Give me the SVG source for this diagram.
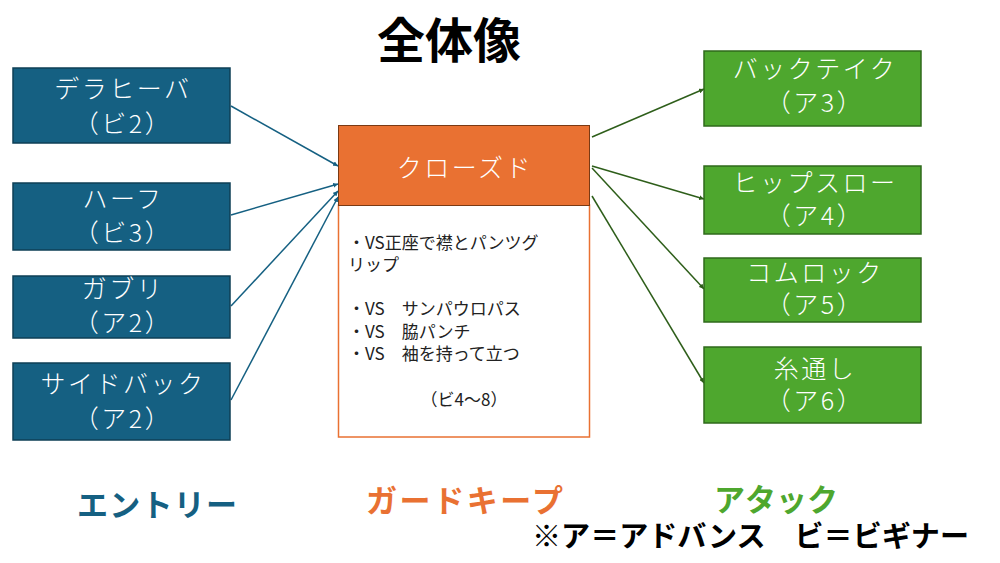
<svg xmlns="http://www.w3.org/2000/svg" width="1000" height="563" viewBox="0 0 1000 563">
<style>
.t{font-family:"Noto Sans CJK JP","Noto Sans",sans-serif;}
.lbl{font-size:25px;fill:#fff;font-weight:300;text-anchor:middle;letter-spacing:2.5px;}
.body{font-size:17px;fill:#222;font-weight:400;}
.blue{fill:#156082;stroke:#0E3F56;stroke-width:1.5;}
.green{fill:#4EA72E;stroke:#2F6A1B;stroke-width:1.5;}
.cb{stroke:#156082;stroke-width:1.5;fill:none;marker-end:url(#ab);}
.cg{stroke:#2E5E1A;stroke-width:1.5;fill:none;marker-end:url(#ag);}
.cat{font-size:31px;font-weight:700;}
</style>
<defs>
<marker id="ab" viewBox="0 0 10 10" refX="10" refY="5" markerWidth="5" markerHeight="5" orient="auto" markerUnits="userSpaceOnUse"><path d="M0,0 L10,5 L0,10 z" fill="#156082"/></marker>
<marker id="ag" viewBox="0 0 10 10" refX="10" refY="5" markerWidth="5" markerHeight="5" orient="auto" markerUnits="userSpaceOnUse"><path d="M0,0 L10,5 L0,10 z" fill="#2E5E1A"/></marker>
</defs>
<rect width="1000" height="563" fill="#fff"/>
<text class="t" x="449" y="58" font-size="48" font-weight="700" text-anchor="middle" fill="#000">全体像</text>

<g id="connectors">
<line class="cb" x1="231" y1="106" x2="338" y2="166"/>
<line class="cb" x1="231" y1="215" x2="338" y2="184"/>
<line class="cb" x1="231" y1="306" x2="338" y2="191"/>
<line class="cb" x1="231" y1="400" x2="338" y2="197"/>
<line class="cg" x1="592" y1="137" x2="704" y2="89"/>
<line class="cg" x1="592" y1="166" x2="704" y2="199"/>
<line class="cg" x1="592" y1="168" x2="704" y2="289"/>
<line class="cg" x1="592" y1="196" x2="704" y2="383"/>
</g>

<g id="n-derahiba">
<rect class="blue" x="13" y="68" width="217" height="75"/>
<text class="t lbl" x="123" y="98">デラヒーバ</text>
<text class="t lbl" x="123" y="133">（ビ2）</text>
</g>
<g id="n-half">
<rect class="blue" x="13" y="183" width="217" height="67"/>
<text class="t lbl" x="123" y="208">ハーフ</text>
<text class="t lbl" x="123" y="242">（ビ3）</text>
</g>
<g id="n-gaburi">
<rect class="blue" x="13" y="276" width="217" height="62"/>
<text class="t lbl" x="123" y="298">ガブリ</text>
<text class="t lbl" x="123" y="332">（ア2）</text>
</g>
<g id="n-sideback">
<rect class="blue" x="13" y="363" width="217" height="77"/>
<text class="t lbl" x="123" y="393">サイドバック</text>
<text class="t lbl" x="123" y="428">（ア2）</text>
</g>

<g id="n-closed">
<rect x="338.5" y="205" width="251" height="232" fill="#fff" stroke="#E97132" stroke-width="1.5"/>
<rect x="338.5" y="125.5" width="251" height="80" fill="#E97132" stroke="#7A3A14" stroke-width="1"/>
<text class="t lbl" x="465" y="177">クローズド</text>
<text class="t body" x="348" y="249">・VS正座で襟とパンツグ</text>
<text class="t body" x="348" y="271">リップ</text>
<text class="t body" x="348" y="315">・VS　サンパウロパス</text>
<text class="t body" x="348" y="338">・VS　脇パンチ</text>
<text class="t body" x="348" y="360">・VS　袖を持って立つ</text>
<text class="t body" x="464" y="406" text-anchor="middle">（ビ4〜8）</text>
</g>

<g id="n-backtake">
<rect class="green" x="704" y="51" width="217" height="75"/>
<text class="t lbl" x="815" y="78">バックテイク</text>
<text class="t lbl" x="815" y="112">（ア3）</text>
</g>
<g id="n-hipthrow">
<rect class="green" x="704" y="166" width="217" height="68"/>
<text class="t lbl" x="815" y="192">ヒップスロー</text>
<text class="t lbl" x="815" y="225">（ア4）</text>
</g>
<g id="n-kimlock">
<rect class="green" x="704" y="258" width="217" height="64"/>
<text class="t lbl" x="815" y="282">コムロック</text>
<text class="t lbl" x="815" y="314">（ア5）</text>
</g>
<g id="n-itodoshi">
<rect class="green" x="704" y="347" width="217" height="76"/>
<text class="t lbl" x="815" y="378">糸通し</text>
<text class="t lbl" x="815" y="410">（ア6）</text>
</g>

<g id="legend">
<text class="t cat" x="77" y="516" fill="#156082" textLength="160" lengthAdjust="spacing">エントリー</text>
<text class="t cat" x="366" y="512" fill="#E97132" textLength="197" lengthAdjust="spacing">ガードキープ</text>
<text class="t cat" x="714" y="511" fill="#4EA72E" textLength="124" lengthAdjust="spacing">アタック</text>
<text class="t" x="532" y="547" font-size="29" font-weight="700" fill="#000" textLength="437" lengthAdjust="spacingAndGlyphs">※ア＝アドバンス　ビ＝ビギナー</text>
</g>
</svg>
